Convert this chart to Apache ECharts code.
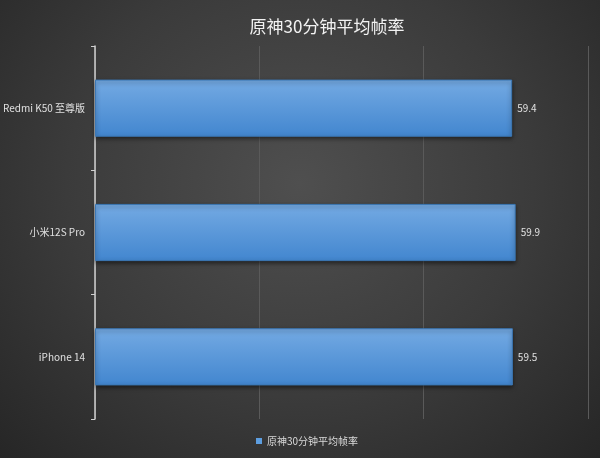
<!DOCTYPE html>
<html>
	<head>
		<meta charset="utf-8" />
		<title>原神30分钟平均帧率</title>
		<script src="https://cdn.jsdelivr.net/npm/echarts@6/dist/echarts.min.js"></script>
		<style>
			html, body { margin: 0; padding: 0; }
			#main {
				width: 600px;
				height: 458px;
				background: radial-gradient(ellipse at 50% 40%, #4f4f4f 0%, #3b3b3b 55%, #262626 100%);
			}
		</style>
	</head>
	<body>
		<div id="main"></div>
	<script>
	var titleText = '原神30分钟平均帧率';
	var seriesName = '原神30分钟平均帧率';
	// 从上到下：Redmi K50 至尊版, 小米12S Pro, iPhone 14
	var categories = ['iPhone 14', '小米12S Pro', 'Redmi K50 至尊版'];
	var fpsValues = [59.5, 59.9, 59.4];

	var chart = echarts.init(document.getElementById('main'), null, { renderer: 'canvas' });

	var option = {
		backgroundColor: 'transparent',
		textStyle: { fontFamily: '"Noto Sans CJK SC", "Noto Sans", sans-serif' },
		title: {
			text: titleText,
			left: 322,
			textAlign: 'center',
			top: 13,
			textStyle: { color: '#f2f2f2', fontSize: 17, fontWeight: 'normal' }
		},
		legend: {
			data: [seriesName],
			left: 251,
			bottom: 7,
			itemWidth: 6,
			itemHeight: 6,
			itemGap: 2,
			icon: 'rect',
			itemStyle: { color: '#5d9ee0', borderWidth: 0, shadowBlur: 0 },
			textStyle: { color: '#d9d9d9', fontSize: 10 }
		},
		grid: { left: 94, right: 12, top: 46, bottom: 39 },
		xAxis: {
			type: 'value',
			min: 0,
			max: 70.2,
			interval: 23.4,
			axisLabel: { show: false },
			axisLine: { show: false },
			axisTick: { show: false },
			splitLine: { show: true, lineStyle: { color: '#5a5a5a', width: 1 } }
		},
		yAxis: {
			type: 'category',
			data: categories,
			axisLine: { show: true, lineStyle: { color: '#d0d0d0', width: 1.5 } },
			axisTick: { show: true, length: 4, lineStyle: { color: '#d0d0d0' } },
			axisLabel: { color: '#e0e0e0', fontSize: 10, margin: 10 }
		},
		series: [{
			name: seriesName,
			type: 'bar',
			data: fpsValues,
			barWidth: '46%',
			itemStyle: {
				color: new echarts.graphic.LinearGradient(0, 0, 0, 1, [
					{ offset: 0, color: '#74aae3' },
					{ offset: 1, color: '#4286cf' }
				]),
				borderColor: '#3c78b5',
				borderWidth: 1,
				shadowColor: 'rgba(0,0,0,0.5)',
				shadowBlur: 4,
				shadowOffsetY: 2
			},
			label: {
				show: true,
				position: 'right',
				distance: 5,
				color: '#e0e0e0',
				fontSize: 10
			}
		}]
	};

	chart.setOption(option);
	</script>
	</body>
</html>
